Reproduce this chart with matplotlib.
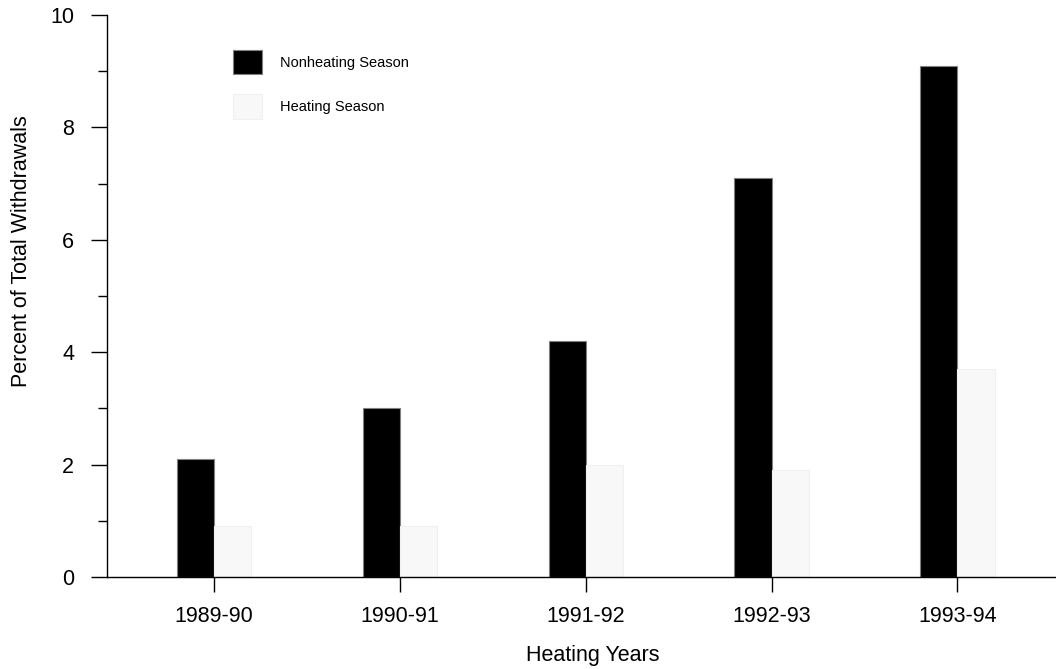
import numpy as np
import matplotlib
matplotlib.use('Agg')
import matplotlib.pyplot as plt

# heating years and percent of total withdrawals per season
years = ['1989-90', '1990-91', '1991-92', '1992-93', '1993-94']
nonheating = [2.1, 3.0, 4.2, 7.1, 9.1]
heating = [0.9, 0.9, 2.0, 1.9, 3.7]

plt.rcParams['font.family'] = ['Liberation Sans', 'DejaVu Sans']

fig = plt.figure(figsize=(10.56, 6.69), dpi=100)
ax = fig.add_axes([107 / 1056, 1 - 577 / 669, 1 - 107 / 1056, (577 - 15) / 669])

x = np.arange(len(years))
w = 0.2
ax.bar(x - w / 2, nonheating, w, color='black', edgecolor='#808080', lw=0.8,
       label='Nonheating Season')
ax.bar(x + w / 2, heating, w, color='#f8f8f8', edgecolor='#f0f0f0', lw=0.8,
       label='Heating Season')

ax.set_xlim(-0.575, 4.53)
ax.set_ylim(0, 10)
ax.set_xticks(x)
ax.set_xticklabels(years)
ax.set_yticks(np.arange(0, 11, 2))
ax.set_yticks(np.arange(1, 10, 2), minor=True)

for s in ['top', 'right']:
    ax.spines[s].set_visible(False)
for s in ['left', 'bottom']:
    ax.spines[s].set_linewidth(1.0)

ax.tick_params(axis='y', which='major', direction='out', length=11.5, width=1.0,
               pad=12, labelsize=15.5)
ax.tick_params(axis='y', which='minor', direction='out', length=6.5, width=1.0)
ax.tick_params(axis='x', which='major', direction='out', length=11, width=1.0,
               pad=10, labelsize=15.5)

ax.set_xlabel('Heating Years', fontsize=15.5)
ax.set_ylabel('Percent of Total Withdrawals', fontsize=15.5)
ax.xaxis.set_label_coords((593 - 107) / 949, -(645 - 577) / 562)
ax.yaxis.set_label_coords(-(107 - 32) / 949, (577 - 251) / 562)

ax.legend(loc='upper left', bbox_to_anchor=(233 / 1056, 1 - 50 / 669),
          bbox_transform=fig.transFigure, frameon=False, fontsize=10.5,
          borderpad=0, borderaxespad=0, handlelength=2.0, handleheight=2.2,
          labelspacing=1.35, handletextpad=1.2)

fig.savefig('out.png', dpi=100)
